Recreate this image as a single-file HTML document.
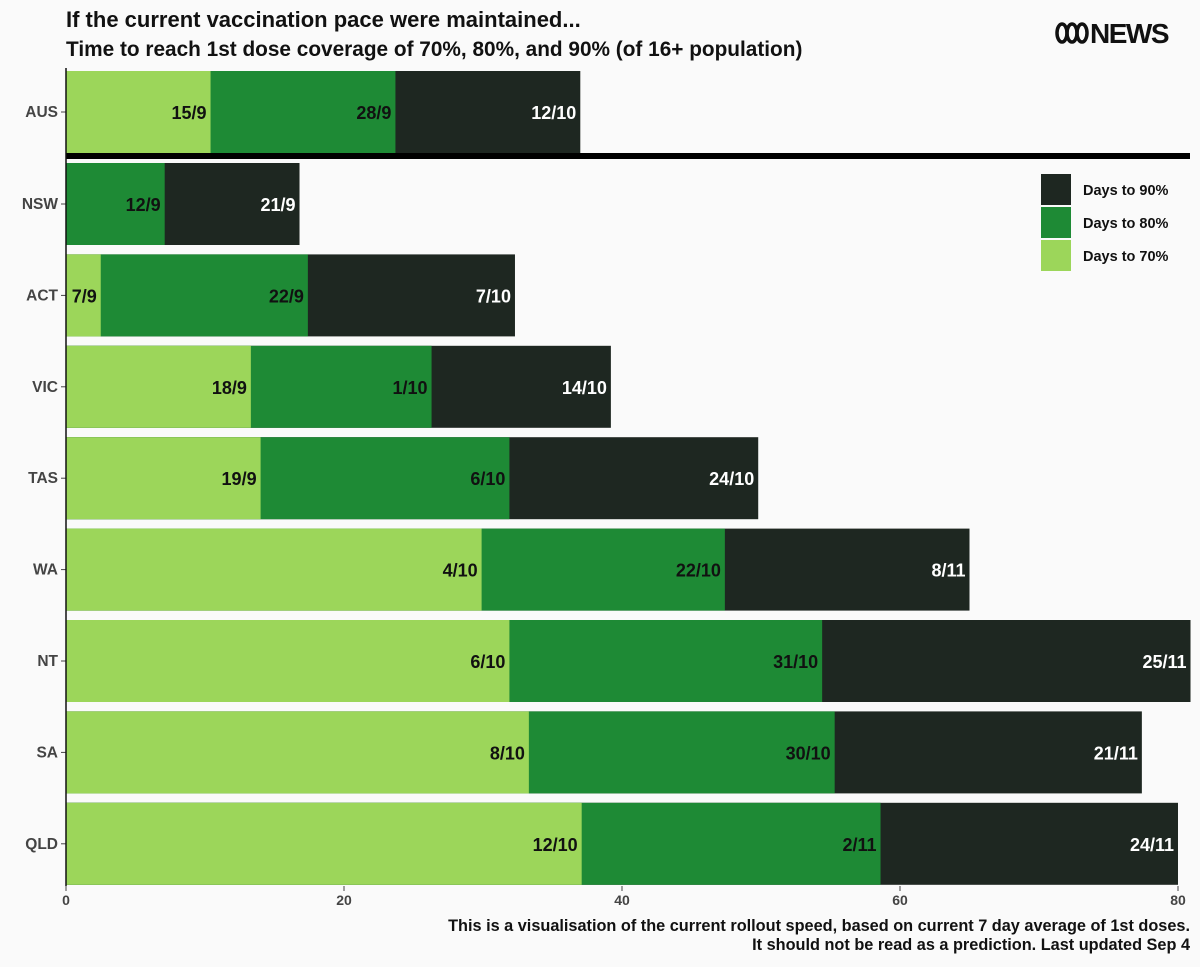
<!DOCTYPE html>
<html><head><meta charset="utf-8"><style>
html,body{margin:0;padding:0;background:#fafafa;}
body{width:1200px;height:962px;overflow:hidden;font-family:"Liberation Sans",sans-serif;}
</style></head><body>
<svg width="1200" height="962" xmlns="http://www.w3.org/2000/svg" font-family="Liberation Sans, sans-serif">
<rect width="1200" height="962" fill="#fafafa"/>
<text x="66" y="27" font-size="22" font-weight="bold" fill="#111">If the current vaccination pace were maintained...</text>
<text x="66" y="56" font-size="20.8" font-weight="bold" fill="#111">Time to reach 1st dose coverage of 70%, 80%, and 90% (of 16+ population)</text>
<g>
<g fill="none" stroke="#111" stroke-width="3.5">
<ellipse cx="1062" cy="33" rx="5" ry="9"/><ellipse cx="1072" cy="33" rx="5" ry="9"/><ellipse cx="1082" cy="33" rx="5" ry="9"/>
</g>
<text x="1090" y="43" font-size="28" font-weight="bold" fill="#111" letter-spacing="-1.5">NEWS</text>
</g>
<g id="bars"></g>
<g id="axes"></g>
<g>
<rect x="1041" y="174" width="30" height="31" fill="#1e2721"/>
<text x="1083" y="195" font-size="14.5" font-weight="bold" fill="#111">Days to 90%</text>
<rect x="1041" y="207" width="30" height="31" fill="#1e8a35"/>
<text x="1083" y="228" font-size="14.5" font-weight="bold" fill="#111">Days to 80%</text>
<rect x="1041" y="240" width="30" height="31" fill="#9cd65a"/>
<text x="1083" y="261" font-size="14.5" font-weight="bold" fill="#111">Days to 70%</text>
</g>
<text x="1190" y="931" font-size="16.3" font-weight="bold" fill="#111" text-anchor="end">This is a visualisation of the current rollout speed, based on current 7 day average of 1st doses.</text>
<text x="1190" y="950" font-size="16.3" font-weight="bold" fill="#111" text-anchor="end">It should not be read as a prediction. Last updated Sep 4</text>
</svg>
<script>
const states = ["AUS","NSW","ACT","VIC","TAS","WA","NT","SA","QLD"];
const days70 = [10.4, 0, 2.5, 13.3, 14.0, 29.9, 31.9, 33.3, 37.1];
const days80 = [23.7, 7.1, 17.4, 26.3, 31.9, 47.4, 54.4, 55.3, 58.6];
const days90 = [37.0, 16.8, 32.3, 39.2, 49.8, 65.0, 80.9, 77.4, 80.0];
const labels70 = ["15/9","","7/9","18/9","19/9","4/10","6/10","8/10","12/10"];
const labels80 = ["28/9","12/9","22/9","1/10","6/10","22/10","31/10","30/10","2/11"];
const labels90 = ["12/10","21/9","7/10","14/10","24/10","8/11","25/11","21/11","24/11"];
const xTicks = [0,20,40,60,80];

const NS="http://www.w3.org/2000/svg";
const x0=66, pxPer=13.9;
const xs=v=>x0+v*pxPer;
const yc=i=>112+ (i===0?0:(204-112)+(i-1)*91.4);
const bh=82;
const bars=document.getElementById('bars'), axes=document.getElementById('axes');
function mk(tag,attrs,parent){const e=document.createElementNS(NS,tag);for(const k in attrs)e.setAttribute(k,attrs[k]);parent.appendChild(e);return e;}
const series=[{v:days90,l:labels90,c:"#1e2721",t:"#fff",n:"90"},{v:days80,l:labels80,c:"#1e8a35",t:"#111",n:"80"},{v:days70,l:labels70,c:"#9cd65a",t:"#111",n:"70"}];
states.forEach((s,i)=>{
  const y=yc(i);
  series.forEach(se=>{
    const val=se.v[i];
    if(val>0){
      const r=mk('rect',{x:x0,y:y-bh/2,width:xs(val)-x0,height:bh,fill:se.c},bars);
      
      
    }
  });
  [...series].reverse().forEach(se=>{
    const val=se.v[i];
    if(val>0 && se.l[i]){
      const t=mk('text',{x:xs(val)-4,y:y+7,'font-size':18,'font-weight':'bold',fill:se.t,'text-anchor':'end'},bars);
      t.textContent=se.l[i];
      
      
    }
  });
  const lab=mk('text',{x:58,y:y+5,'font-size':15.5,'font-weight':'bold',fill:'#444','text-anchor':'end'},axes);
  lab.textContent=s;
  
  
  mk('line',{x1:61,x2:66,y1:y,y2:y,stroke:'#444','stroke-width':1},axes);
});
const sep=mk('rect',{x:66,y:153,width:1124,height:6,fill:'#000'},axes);


const ax=mk('line',{x1:66,x2:66,y1:68,y2:886,stroke:'#111','stroke-width':1.5},axes);


xTicks.forEach(v=>{
  mk('line',{x1:xs(v),x2:xs(v),y1:886,y2:891,stroke:'#444'},axes);
  const t=mk('text',{x:xs(v),y:905,'font-size':14,'font-weight':'bold',fill:'#444','text-anchor':'middle'},axes);
  t.textContent=v;
  
  
});
</script>
</body></html>
